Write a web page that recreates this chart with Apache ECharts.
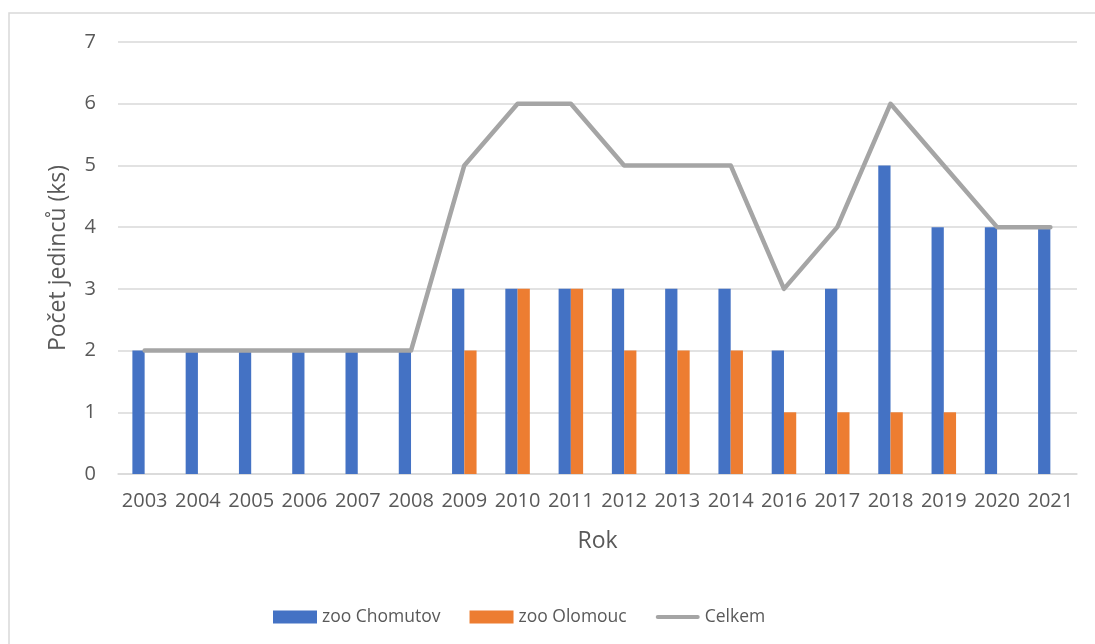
<!DOCTYPE html>
<html>
<head>
<meta charset="utf-8">
<script src="https://cdn.jsdelivr.net/npm/echarts@6/dist/echarts.min.js"></script>
<style>
html,body{margin:0;padding:0;background:#fff;}
#c{width:1095px;height:644px;}
</style>
</head>
<body>
<div id="c"></div>
<script>
const years = ['2003','2004','2005','2006','2007','2008','2009','2010','2011','2012','2013','2014','2016','2017','2018','2019','2020','2021'];
const chomutov = [2,2,2,2,2,2,3,3,3,3,3,3,2,3,5,4,4,4];
const olomouc = [null,null,null,null,null,null,2,3,3,2,2,2,1,1,1,1,null,null];
const celkem = [2,2,2,2,2,2,5,6,6,5,5,5,3,4,6,5,4,4];
const yTicks = [0,1,2,3,4,5,6,7];

const FONT = '"Open Sans", "DejaVu Sans", sans-serif';
const TXT = '#595959';
const chart = echarts.init(document.getElementById('c'), null, {renderer:'canvas'});
chart.setOption({
  animation:false,
  backgroundColor:'#fff',
  textStyle:{fontFamily:FONT, color:TXT},
  graphic:[{type:'rect', shape:{x:9, y:13, width:1200, height:800}, style:{fill:'none', stroke:'#d9d9d9', lineWidth:1.5}, silent:true, z:-1}],
  grid:{left:118, right:18, top:42, bottom:170, containLabel:false},
  legend:{
    bottom:13, left:268,
    itemWidth:44, itemHeight:13, itemGap:29,
    textStyle:{fontFamily:FONT, fontSize:17.5, color:TXT},
    data:[
      {name:'zoo Chomutov', icon:'rect'},
      {name:'zoo Olomouc', icon:'rect'},
      {name:'Celkem', icon:'path://M2,0L42,0A2,2,0,0,1,42,4L2,4A2,2,0,0,1,2,0Z', itemStyle:{color:'#a5a5a5'}}
    ]
  },
  xAxis:{
    type:'category', data:years,
    name:'Rok', nameLocation:'middle', nameGap:56,
    nameTextStyle:{fontFamily:FONT, fontSize:23, color:TXT},
    axisTick:{show:false},
    axisLine:{lineStyle:{color:'#d9d9d9', width:1.5}},
    axisLabel:{interval:0, fontFamily:FONT, fontSize:20, color:TXT, margin:17}
  },
  yAxis:{
    type:'value', min:yTicks[0], max:yTicks[yTicks.length-1], interval:1,
    name:'Počet jedinců (ks)', nameLocation:'middle', nameGap:48,
    nameTextStyle:{fontFamily:FONT, fontSize:23, color:TXT},
    axisLine:{show:false}, axisTick:{show:false},
    axisLabel:{fontFamily:FONT, fontSize:20, color:TXT, margin:22},
    splitLine:{lineStyle:{color:'#d9d9d9', width:1.5}}
  },
  series:[
    {name:'zoo Chomutov', type:'bar', data:chomutov, itemStyle:{color:'#4472c4'}, barGap:'0%', barCategoryGap:'54%'},
    {name:'zoo Olomouc', type:'bar', data:olomouc, itemStyle:{color:'#ed7d31'}, barGap:'0%', barCategoryGap:'54%'},
    {name:'Celkem', type:'line', data:celkem, symbol:'none', showSymbol:false, itemStyle:{color:'#a5a5a5'},
     lineStyle:{color:'#a5a5a5', width:4.5, cap:'round', join:'round'}, z:5}
  ]
});
</script>
</body>
</html>
